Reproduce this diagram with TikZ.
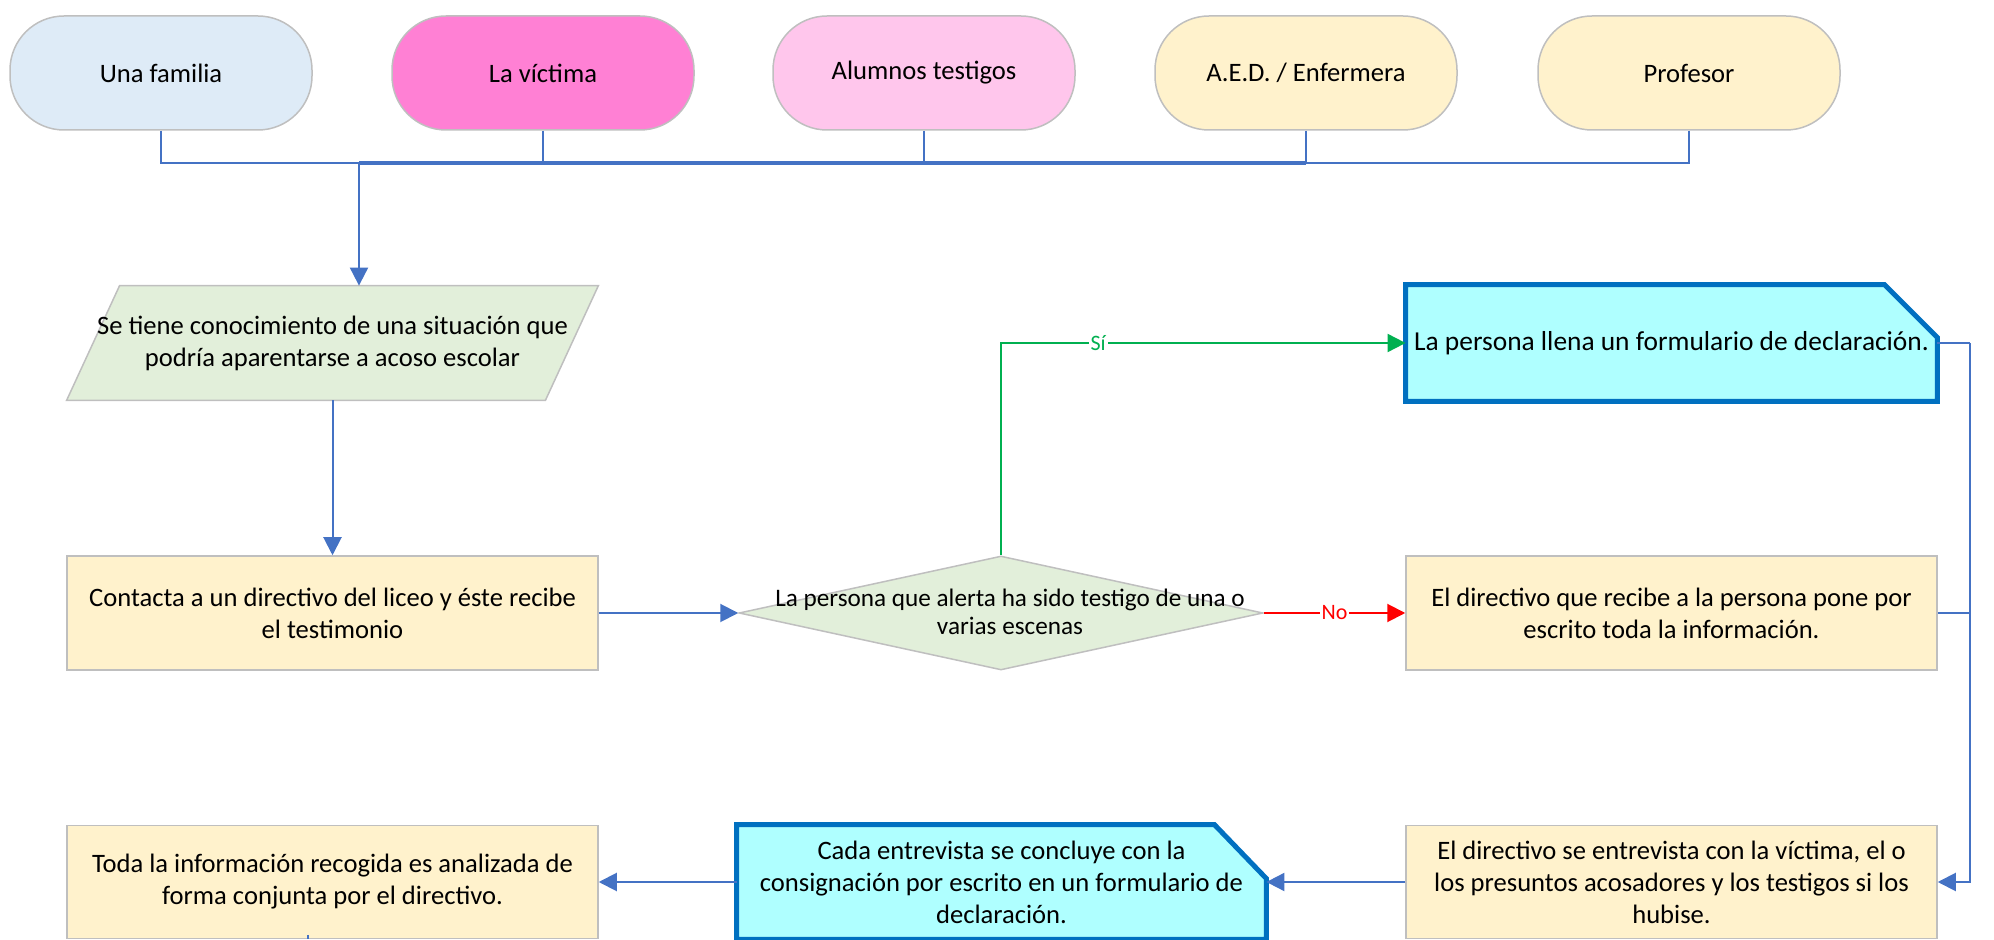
\documentclass[tikz,border=0pt]{standalone}
\usepackage{fontspec}
\setmainfont{Carlito}
\usetikzlibrary{shapes.geometric,arrows.meta,backgrounds}
\definecolor{cfam}{HTML}{DEEBF7}
\definecolor{cvic}{HTML}{FF80D4}
\definecolor{calu}{HTML}{FFC6EC}
\definecolor{cyel}{HTML}{FFF2CC}
\definecolor{cgrn}{HTML}{E2EFDA}
\definecolor{ccyan}{HTML}{AFFFFF}
\definecolor{cdoc}{HTML}{0070C0}
\definecolor{cgray}{HTML}{BFBFBF}
\definecolor{cblue}{HTML}{4472C4}
\definecolor{cgl}{HTML}{00B050}
\definecolor{cred}{HTML}{FF0000}
\newcommand\mainfs{\fontsize{13.3}{16}\selectfont}
\newcommand\docfs{\fontsize{13.7}{16.5}\selectfont}
\newcommand\decfs{\fontsize{12.6}{14}\selectfont}
\newcommand\labfs{\fontsize{11}{13}\selectfont}
\begin{document}
\begin{tikzpicture}[x=0.5pt,y=-0.5pt,
  term/.style={rectangle, rounded corners=27pt, draw=cgray, line width=0.75pt,
    minimum width=151pt, minimum height=57pt, font=\mainfs, align=center, inner sep=0pt},
  box/.style={rectangle, draw=cgray, fill=cyel, line width=0.75pt,
    minimum width=265.5pt, minimum height=57pt, font=\mainfs, align=center, inner sep=0pt},
  plain/.style={rectangle, minimum width=265.5pt, minimum height=57pt,
    font=\mainfs, align=center, inner sep=0pt},
  dia/.style={diamond, draw=cgray, fill=cgrn, line width=0.75pt,
    minimum width=262pt, minimum height=57pt, inner sep=0pt},
  docst/.style={draw=cdoc, fill=ccyan, line width=2.5pt, line join=miter},
  conn/.style={draw=cblue, line width=1pt},
  gline/.style={draw=cgl, line width=1pt},
  rline/.style={draw=cred, line width=1pt},
  arr/.style={-{Triangle[length=9pt,width=9pt]}},
  lab/.style={font=\labfs, fill=white, inner sep=1pt}
]
\useasboundingbox (0,0) rectangle (1994,940);

% top terminators
\node[term, fill=cfam] (t1) at (161,73) {Una familia};
\node[term, fill=cvic] (t2) at (543,73) {La víctima};
\node[term, fill=calu] (t3) at (924,73) {Alumnos testigos};
\node[term, fill=cyel] (t4) at (1306,73) {A.E.D. / Enfermera};
\node[term, fill=cyel] (t5) at (1689,73) {Profesor};

% flow nodes
\node[plain] (p) at (332.5,343) {Se tiene conocimiento de una situación que\\podría aparentarse a acoso escolar};
\node[box] (r1) at (332.5,613) {Contacta a un directivo del liceo y éste recibe\\el testimonio};
\node[dia] (dec) at (1001,613) {};
\node[font=\decfs, align=center, inner sep=0pt] (dect) at (1010,612) {La persona que alerta ha sido testigo de una o\\varias escenas};
\node[plain, minimum height=58pt, font=\docfs] (d1) at (1671.5,343) {La persona llena un formulario de declaración.};
\node[box] (r2) at (1671.5,613) {El directivo que recibe a la persona pone por\\escrito toda la información.};
\node[box, minimum height=56.5pt] (r3) at (1671.5,882) {El directivo se entrevista con la víctima, el o\\los presuntos acosadores y los testigos si los\\hubise.};
\node[plain, minimum width=264.5pt, minimum height=57pt] (d2) at (1001.5,882) {Cada entrevista se concluye con la\\consignación por escrito en un formulario de\\declaración.};
\node[box, minimum height=56.5pt] (r4) at (332.5,882) {Toda la información recogida es analizada de\\forma conjunta por el directivo.};

\begin{pgfonlayer}{background}
\filldraw[fill=cgrn, draw=cgray, line width=0.75pt]
  (p.south west) -- ([xshift=26.5pt]p.north west) -- (p.north east) -- ([xshift=-26.5pt]p.south east) -- cycle;
\filldraw[docst]
  (d1.south west) -- (d1.north west) -- ([xshift=-26.5pt]d1.north east) -- ([yshift=-26.5pt]d1.north east) -- (d1.south east) -- cycle;
\filldraw[docst]
  (d2.south west) -- (d2.north west) -- ([xshift=-26pt]d2.north east) -- ([yshift=-27pt]d2.north east) -- (d2.south east) -- cycle;
\end{pgfonlayer}

% connectors
\coordinate (bus) at (359,163);
\foreach \t in {t1,t2,t3,t5} \draw[conn] (\t.south) |- (bus);
\draw[conn] (t4.south) -- (t4.south |- bus);
\draw[conn, line width=1.6pt] (t4.south |- bus) -- (bus);
\draw[conn,arr] (bus) -- (bus |- p.north);
\draw[conn,arr] (p.south) -- (r1.north);
\draw[conn,arr] (r1.east) -- (dec.west);
\draw[gline,arr] (dec.north) |- node[pos=0.62, lab, text=cgl] {Sí} (d1.west);
\draw[rline,arr] (dec.east) -- node[lab, text=cred] {No} (r2.west);
\coordinate (rx) at (1970,343);
\draw[conn] (d1.east) -- (rx);
\draw[conn] (r2.east) -- (r2.east -| rx);
\draw[conn,arr] (rx) |- (r3.east);
\draw[conn,arr] (r3.west) -- (d2.east);
\draw[conn,arr] (d2.west) -- (r4.east);
\coordinate (stub) at (308,935);
\draw[conn] (stub) -- (stub |- r4.south);
\end{tikzpicture}
\end{document}
